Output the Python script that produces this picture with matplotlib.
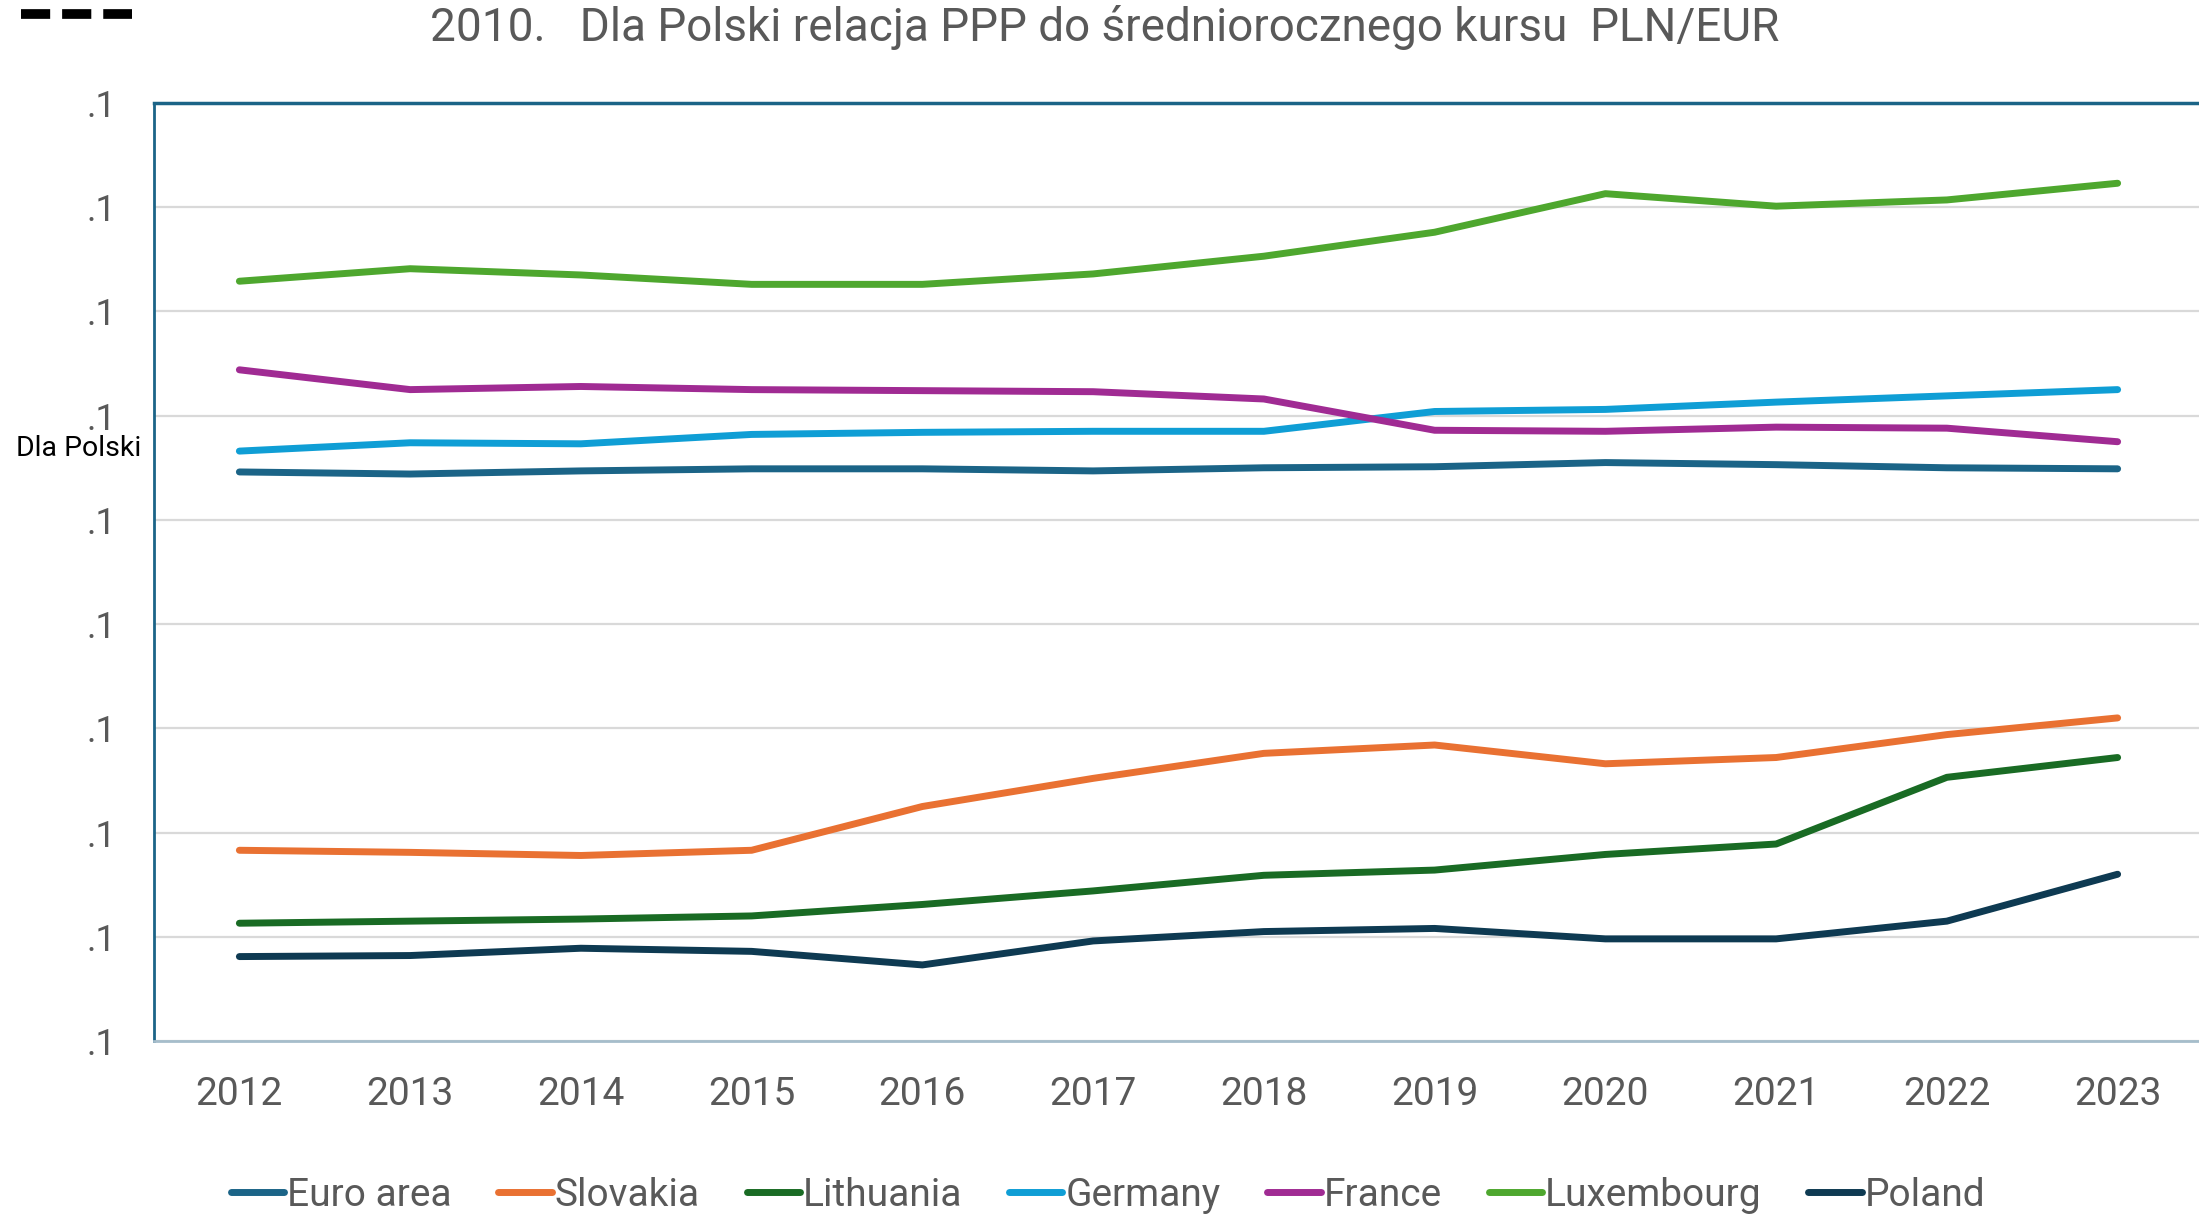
import numpy as np
import matplotlib.pyplot as plt
from matplotlib.lines import Line2D

plt.rcParams['font.family'] = ['Roboto', 'DejaVu Sans']

years = ['2012', '2013', '2014', '2015', '2016', '2017', '2018', '2019', '2020', '2021', '2022', '2023']

euro_area = [0.846, 0.844, 0.847, 0.849, 0.849, 0.847, 0.850, 0.851, 0.855, 0.853, 0.850, 0.849]
slovakia = [0.483, 0.481, 0.478, 0.483, 0.525, 0.552, 0.576, 0.584, 0.566, 0.572, 0.594, 0.610]
lithuania = [0.413, 0.415, 0.417, 0.420, 0.431, 0.444, 0.459, 0.464, 0.479, 0.489, 0.553, 0.572]
germany = [0.866, 0.874, 0.873, 0.882, 0.884, 0.885, 0.885, 0.904, 0.906, 0.913, 0.919, 0.925]
france = [0.944, 0.925, 0.928, 0.925, 0.924, 0.923, 0.916, 0.886, 0.885, 0.889, 0.888, 0.875]
luxembourg = [1.029, 1.041, 1.035, 1.026, 1.026, 1.036, 1.053, 1.076, 1.113, 1.101, 1.107, 1.123]
poland = [0.381, 0.382, 0.389, 0.386, 0.373, 0.396, 0.405, 0.408, 0.398, 0.398, 0.415, 0.460]

series = [
    ('Euro area', euro_area, '#1B6487'),
    ('Slovakia', slovakia, '#E97132'),
    ('Lithuania', lithuania, '#196B24'),
    ('Germany', germany, '#0F9ED5'),
    ('France', france, '#A02B93'),
    ('Luxembourg', luxembourg, '#4EA72E'),
    ('Poland', poland, '#0E3A52'),
]

y_ticks = [0.3, 0.4, 0.5, 0.6, 0.7, 0.8, 0.9, 1.0, 1.1, 1.2]

fig = plt.figure(figsize=(21.99, 12.15), dpi=100)
ax = fig.add_axes([154 / 2199, 1 - 1041 / 1215, 2049 / 2199, (1041 - 103) / 1215])

x = np.arange(len(years))
for name, vals, col in series:
    ax.plot(x, vals, color=col, lw=5, solid_capstyle='round', solid_joinstyle='round', label=name, zorder=3)

ax.set_xlim(-0.5, len(years) - 0.5)
ax.set_ylim(y_ticks[0], y_ticks[-1])
ax.set_xticks(x)
ax.set_xticklabels(years)
ax.set_yticks(y_ticks)
ax.set_yticklabels(['.1'] * len(y_ticks))
ax.tick_params(axis='both', length=0, labelcolor='#595959')
ax.tick_params(axis='y', pad=27, labelsize=26)
ax.tick_params(axis='x', pad=25, labelsize=28)
ax.grid(axis='y', color='#D9D9D9', lw=1.6, zorder=0)

ax.spines['right'].set_visible(False)
ax.spines['left'].set_color('#1B6487')
ax.spines['left'].set_linewidth(2)
ax.spines['top'].set_color('#1B6487')
ax.spines['top'].set_linewidth(2.5)
ax.spines['bottom'].set_color('#A6BDCB')
ax.spines['bottom'].set_linewidth(2)

fig.text(1105 / 2199, 1 - 27 / 1215, '2010.   Dla Polski relacja PPP do średniorocznego kursu  PLN/EUR',
         ha='center', va='center', fontsize=33, color='#595959')
fig.text(16 / 2199, 1 - 449 / 1215, 'Dla Polski', ha='left', va='center', fontsize=20.5, color='black')

# black dashes in the upper left corner
fig.add_artist(Line2D([21 / 2199, 132 / 2199], [1 - 14 / 1215, 1 - 14 / 1215],
                      color='black', lw=7, dashes=(3.0, 1.23), dash_capstyle='butt'))

fig.legend(loc='center', bbox_to_anchor=(1108 / 2199, 1 - 1195 / 1215), ncol=7, frameon=False,
           fontsize=28, handlelength=1.37, handletextpad=0.08, columnspacing=1.2,
           labelcolor='#595959')

fig.savefig('out.png', dpi=100)
